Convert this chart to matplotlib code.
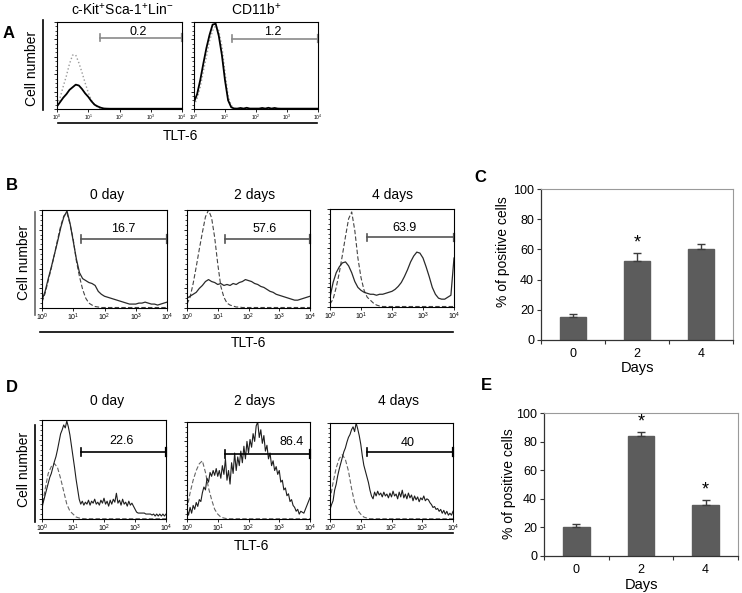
import numpy as np
import matplotlib
matplotlib.use('Agg')
import matplotlib.pyplot as plt
from matplotlib.lines import Line2D

plt.rcParams['font.family'] = ['Liberation Sans', 'DejaVu Sans']
plt.rcParams['mathtext.fontset'] = 'custom'
plt.rcParams['mathtext.rm'] = 'Liberation Sans'
plt.rcParams['mathtext.it'] = 'Liberation Sans:italic'
plt.rcParams['mathtext.bf'] = 'Liberation Sans:bold'

# ---------------- data ----------------
# histogram channels, log10 of TLT-6 fluorescence
LOG_COARSE = np.linspace(0, 4, 41)
LOG_FINE = np.linspace(0, 4, 81)

# A: c-Kit+Sca-1+Lin- and CD11b+ (solid = TLT-6, dotted = isotype)
A_KSL_STAIN = [0.03, 0.08, 0.13, 0.17, 0.22, 0.25, 0.28, 0.27, 0.23, 0.18,
               0.14, 0.09, 0.05, 0.03, 0.015, 0.006, 0.004, 0.003, 0.003, 0.003,
               0.003, 0.003, 0.003, 0.003, 0.003, 0.003, 0.003, 0.003, 0.003, 0.003,
               0.003, 0.003, 0.003, 0.003, 0.003, 0.003, 0.003, 0.003, 0.003, 0.003,
               0.003]
A_KSL_ISO = [0.05, 0.13, 0.26, 0.38, 0.52, 0.62, 0.62, 0.53, 0.42, 0.30,
             0.19, 0.10, 0.05, 0.02, 0.005, 0.0, 0.0, 0.0, 0.0, 0.0,
             0.0, 0.0, 0.0, 0.0, 0.0, 0.0, 0.0, 0.0, 0.0, 0.0,
             0.0, 0.0, 0.0, 0.0, 0.0, 0.0, 0.0, 0.0, 0.0, 0.0,
             0.0]
A_CD11B_STAIN = [0.08, 0.17, 0.33, 0.52, 0.70, 0.85, 0.97, 0.98, 0.84, 0.62,
                 0.33, 0.10, 0.02, 0.005, 0.005, 0.012, 0.005, 0.014, 0.005, 0.005,
                 0.005, 0.005, 0.012, 0.005, 0.014, 0.005, 0.012, 0.005, 0.004, 0.004,
                 0.004, 0.004, 0.004, 0.004, 0.004, 0.004, 0.004, 0.004, 0.004, 0.004,
                 0.004]
A_CD11B_ISO = [0.04, 0.12, 0.25, 0.43, 0.60, 0.78, 0.90, 0.96, 0.90, 0.72,
               0.42, 0.15, 0.04, 0.01, 0.0, 0.0, 0.0, 0.0, 0.0, 0.0,
               0.0, 0.0, 0.0, 0.0, 0.0, 0.0, 0.0, 0.0, 0.0, 0.0,
               0.0, 0.0, 0.0, 0.0, 0.0, 0.0, 0.0, 0.0, 0.0, 0.0,
               0.0]

# B: 0 / 2 / 4 days (solid = TLT-6, dashed = isotype)
B0_STAIN = [0.08, 0.17, 0.30, 0.42, 0.55, 0.68, 0.82, 0.93, 0.99, 0.86,
            0.68, 0.50, 0.36, 0.30, 0.28, 0.26, 0.25, 0.23, 0.17, 0.14,
            0.12, 0.11, 0.10, 0.09, 0.08, 0.07, 0.06, 0.05, 0.04, 0.04,
            0.04, 0.05, 0.05, 0.06, 0.05, 0.04, 0.04, 0.03, 0.04, 0.05,
            0.06]
B0_ISO = [0.06, 0.15, 0.28, 0.41, 0.55, 0.70, 0.84, 0.94, 0.97, 0.85,
          0.70, 0.48, 0.32, 0.19, 0.10, 0.05, 0.03, 0.015, 0.01, 0.005,
          0.005, 0.005, 0.005, 0.005, 0.005, 0.005, 0.005, 0.005, 0.005, 0.005,
          0.005, 0.005, 0.005, 0.005, 0.005, 0.005, 0.005, 0.005, 0.005, 0.005,
          0.005]
B2_STAIN = [0.10, 0.12, 0.14, 0.16, 0.20, 0.23, 0.27, 0.29, 0.27, 0.26,
            0.24, 0.25, 0.23, 0.24, 0.23, 0.25, 0.24, 0.26, 0.27, 0.29,
            0.28, 0.27, 0.25, 0.24, 0.22, 0.21, 0.19, 0.17, 0.16, 0.14,
            0.13, 0.12, 0.11, 0.10, 0.09, 0.08, 0.08, 0.09, 0.10, 0.11,
            0.12]
B2_ISO = [0.04, 0.11, 0.25, 0.42, 0.60, 0.77, 0.93, 1.00, 0.92, 0.72,
          0.45, 0.22, 0.11, 0.05, 0.03, 0.02, 0.01, 0.01, 0.005, 0.005,
          0.005, 0.005, 0.005, 0.005, 0.005, 0.005, 0.005, 0.005, 0.005, 0.005,
          0.005, 0.005, 0.005, 0.005, 0.005, 0.005, 0.005, 0.005, 0.005, 0.005,
          0.005]
B4_STAIN = [0.10, 0.25, 0.35, 0.41, 0.45, 0.46, 0.42, 0.35, 0.26, 0.20,
            0.17, 0.15, 0.14, 0.13, 0.13, 0.12, 0.13, 0.13, 0.14, 0.15,
            0.16, 0.18, 0.21, 0.25, 0.31, 0.38, 0.46, 0.52, 0.56, 0.55,
            0.50, 0.41, 0.31, 0.20, 0.13, 0.09, 0.08, 0.08, 0.10, 0.12,
            0.50]
B4_ISO = [0.03, 0.08, 0.20, 0.35, 0.53, 0.72, 0.90, 0.97, 0.78, 0.50,
          0.30, 0.17, 0.10, 0.07, 0.04, 0.02, 0.01, 0.005, 0.005, 0.005,
          0.005, 0.005, 0.005, 0.005, 0.005, 0.005, 0.005, 0.005, 0.005, 0.005,
          0.005, 0.005, 0.005, 0.005, 0.005, 0.005, 0.005, 0.005, 0.005, 0.005,
          0.005]

# D: 0 / 2 / 4 days (fine channels for the noisy stained curves)
D0_STAIN = [0.12, 0.18, 0.24, 0.30, 0.36, 0.42, 0.46, 0.52, 0.58, 0.63,
            0.70, 0.78, 0.86, 0.90, 0.95, 0.92, 0.99, 0.93, 0.85, 0.74,
            0.63, 0.52, 0.40, 0.30, 0.20, 0.15, 0.18, 0.14, 0.17, 0.15,
            0.19, 0.14, 0.18, 0.16, 0.20, 0.15, 0.17, 0.14, 0.19, 0.16,
            0.21, 0.15, 0.18, 0.13, 0.19, 0.15, 0.20, 0.17, 0.26, 0.16,
            0.19, 0.14, 0.20, 0.15, 0.17, 0.13, 0.18, 0.14, 0.16, 0.13,
            0.10, 0.07, 0.06, 0.06, 0.06, 0.06, 0.06, 0.05, 0.05, 0.05,
            0.05, 0.04, 0.05, 0.03, 0.05, 0.03, 0.05, 0.03, 0.05, 0.03,
            0.05]
D0_ISO = [0.10, 0.30, 0.46, 0.53, 0.56, 0.52, 0.41, 0.28, 0.15, 0.08,
          0.05, 0.02, 0.01, 0.005, 0.003, 0.003, 0.003, 0.003, 0.003, 0.003,
          0.003, 0.003, 0.003, 0.003, 0.003, 0.003, 0.003, 0.003, 0.003, 0.003,
          0.003, 0.003, 0.003, 0.003, 0.003, 0.003, 0.003, 0.003, 0.003, 0.003,
          0.003]
D2_STAIN = [0.10, 0.04, 0.12, 0.06, 0.14, 0.10, 0.17, 0.13, 0.20, 0.18,
            0.27, 0.33, 0.30, 0.42, 0.38, 0.48, 0.44, 0.50, 0.45, 0.52,
            0.44, 0.50, 0.42, 0.55, 0.46, 0.62, 0.40, 0.50, 0.36, 0.58,
            0.47, 0.68, 0.50, 0.64, 0.55, 0.70, 0.58, 0.75, 0.62, 0.80,
            0.68, 0.82, 0.74, 0.88, 0.80, 0.96, 1.00, 0.84, 0.92, 0.78,
            0.86, 0.70, 0.76, 0.62, 0.68, 0.55, 0.60, 0.50, 0.54, 0.46,
            0.50, 0.38, 0.40, 0.30, 0.32, 0.24, 0.26, 0.18, 0.20, 0.14,
            0.12, 0.08, 0.10, 0.05, 0.08, 0.07, 0.06, 0.10, 0.14, 0.18,
            0.22]
D2_ISO = [0.10, 0.27, 0.40, 0.50, 0.57, 0.60, 0.48, 0.32, 0.20, 0.10,
          0.05, 0.02, 0.01, 0.003, 0.003, 0.003, 0.003, 0.003, 0.003, 0.003,
          0.003, 0.003, 0.003, 0.003, 0.003, 0.003, 0.003, 0.003, 0.003, 0.003,
          0.003, 0.003, 0.003, 0.003, 0.003, 0.003, 0.003, 0.003, 0.003, 0.003,
          0.003]
D4_STAIN = [0.10, 0.15, 0.19, 0.30, 0.36, 0.45, 0.52, 0.58, 0.64, 0.70,
            0.74, 0.80, 0.85, 0.88, 0.93, 0.96, 0.91, 1.00, 0.94, 0.87,
            0.78, 0.66, 0.56, 0.50, 0.44, 0.38, 0.30, 0.24, 0.21, 0.28,
            0.24, 0.29, 0.25, 0.27, 0.23, 0.28, 0.24, 0.26, 0.22, 0.27,
            0.23, 0.29, 0.24, 0.26, 0.21, 0.28, 0.23, 0.30, 0.22, 0.26,
            0.21, 0.27, 0.22, 0.25, 0.19, 0.24, 0.20, 0.23, 0.18, 0.22,
            0.20, 0.24, 0.19, 0.21, 0.20, 0.17, 0.15, 0.12, 0.13, 0.10,
            0.11, 0.08, 0.10, 0.06, 0.09, 0.05, 0.08, 0.04, 0.06, 0.04,
            0.08]
D4_ISO = [0.20, 0.38, 0.53, 0.63, 0.67, 0.62, 0.50, 0.32, 0.17, 0.09,
          0.05, 0.02, 0.01, 0.003, 0.003, 0.003, 0.003, 0.003, 0.003, 0.003,
          0.003, 0.003, 0.003, 0.003, 0.003, 0.003, 0.003, 0.003, 0.003, 0.003,
          0.003, 0.003, 0.003, 0.003, 0.003, 0.003, 0.003, 0.003, 0.003, 0.003,
          0.003]

A_TITLES = ['c-Kit$^{+}$Sca-1$^{+}$Lin$^{-}$', 'CD11b$^{+}$']
TIME_TITLES = ['0 day', '2 days', '4 days']
A_GATE_PCT = ['0.2', '1.2']
B_GATE_PCT = ['16.7', '57.6', '63.9']
D_GATE_PCT = ['22.6', '86.4', '40']

# C / E: % positive cells
DAYS = ['0', '2', '4']
C_MEAN = [15.5, 52, 60.5]
C_ERR = [1.5, 5.5, 3.3]
C_SIG = [False, True, False]
E_MEAN = [20.5, 84, 36]
E_ERR = [2.0, 2.5, 3.5]
E_SIG = [False, True, True]

# ---------------- layout helpers ----------------
W, H = 742, 593
fig = plt.figure(figsize=(W / 100, H / 100), dpi=100)


def box(x0, y0, x1, y1):
    return fig.add_axes([x0 / W, 1 - y1 / H, (x1 - x0) / W, (y1 - y0) / H])


def ftext(x, y, s, **kw):
    fig.text(x / W, 1 - y / H, s, **kw)


def fline(x0, y0, x1, y1, color='k', lw=1.2):
    fig.add_artist(Line2D([x0 / W, x1 / W], [1 - y0 / H, 1 - y1 / H],
                          transform=fig.transFigure, color=color, lw=lw))


def flow_panel(rect, log_s, stain, log_i, iso, gate0, gate_y, pct, pct_x, pct_y,
               s_kw, i_kw, gate_color, tick_fs):
    ax = box(*rect)
    ax.plot(10 ** np.asarray(log_i), iso, **i_kw)
    ax.plot(10 ** np.asarray(log_s), stain, **s_kw)
    ax.set_xscale('log')
    ax.set_xlim(1, 1e4)
    ax.set_ylim(0, 1.0)
    ax.set_xticks([1, 10, 100, 1000, 10000])
    ax.set_xticklabels([r'$10^{%d}$' % k for k in range(5)], fontsize=tick_fs)
    ax.set_yticks(np.arange(0, 1.01, 0.2))
    ax.set_yticks(np.arange(0, 1.01, 0.05), minor=True)
    ax.set_yticklabels([])
    ax.tick_params(which='major', length=2, width=0.6, pad=1)
    ax.tick_params(which='minor', length=1.2, width=0.5)
    for sp in ax.spines.values():
        sp.set_linewidth(0.8)
    g0 = 10 ** gate0
    ax.plot([g0, 1e4], [gate_y, gate_y], color=gate_color, lw=1.2, clip_on=False)
    ax.plot([g0, g0], [gate_y - 0.04, gate_y + 0.04], color=gate_color, lw=1.2)
    ax.plot([1e4, 1e4], [gate_y - 0.04, gate_y + 0.04], color=gate_color, lw=1.6,
            clip_on=False)
    ax.text(10 ** pct_x, pct_y, pct, ha='center', va='center', fontsize=9)
    return ax


def bar_panel(rect, mean, err, sig):
    ax = box(*rect)
    pos = np.arange(len(DAYS))
    ax.bar(pos, mean, width=0.41, color='#5c5c5c', edgecolor='#5c5c5c', zorder=2)
    ax.errorbar(pos, mean, yerr=[[0] * len(err), err], fmt='none', ecolor='#3c3c3c',
                elinewidth=1, capsize=3, capthick=1, zorder=3)
    for p, m, e, s in zip(pos, mean, err, sig):
        if s:
            ax.text(p, m + e + 7, '*', ha='center', va='center', fontsize=13)
    ax.set_xlim(-0.5, 2.5)
    ax.set_ylim(0, 100)
    ax.set_yticks(range(0, 101, 20))
    ax.set_xticks(pos)
    ax.set_xticklabels(DAYS, fontsize=9)
    ax.set_xticks([-0.5, 0.5, 1.5, 2.5], minor=True)
    ax.tick_params(axis='x', which='major', length=0, pad=6)
    ax.tick_params(axis='x', which='minor', length=3, width=0.8, color='#333')
    ax.tick_params(axis='y', labelsize=9, length=3, width=0.8, color='#333', pad=2)
    for side in ['left', 'bottom']:
        ax.spines[side].set_color('#333')
        ax.spines[side].set_linewidth(0.9)
    for side in ['top', 'right']:
        ax.spines[side].set_color('#9a9a9a')
        ax.spines[side].set_linewidth(0.8)
    return ax


# ---------------- panel A ----------------
a_rects = [(57, 22, 182, 109), (194, 22, 318, 109)]
a_data = [(A_KSL_STAIN, A_KSL_ISO), (A_CD11B_STAIN, A_CD11B_ISO)]
a_gate0 = [1.39, 1.23]
a_gate_y = [0.82, 0.81]
a_pct_x = [2.6, 2.55]
for rect, (st, iso), g0, gy, pct, px in zip(a_rects, a_data, a_gate0, a_gate_y,
                                            A_GATE_PCT, a_pct_x):
    flow_panel(rect, LOG_COARSE, st, LOG_COARSE, iso, g0, gy, pct, px, 0.89,
               dict(color='k', lw=1.3), dict(color='#9a9a9a', lw=1.0, ls=':'),
               '#8a8a8a', 3.5)
ftext(122, 10, A_TITLES[0], ha='center', va='center', fontsize=10)
ftext(256, 10, A_TITLES[1], ha='center', va='center', fontsize=10)
ftext(9, 33, 'A', ha='center', va='center', fontsize=12, fontweight='bold')
fline(43, 20, 43, 110)
fline(58, 123, 317, 123)
ftext(32, 68, 'Cell number', rotation=90, ha='center', va='center', fontsize=10)
ftext(180, 136, 'TLT-6', ha='center', va='center', fontsize=10)

# ---------------- panel B ----------------
b_rects = [(42, 210, 167, 308), (187, 210, 310, 308), (330, 209, 454, 307)]
b_data = [(B0_STAIN, B0_ISO), (B2_STAIN, B2_ISO), (B4_STAIN, B4_ISO)]
b_gate0 = [1.26, 1.22, 1.19]
b_gate_y = [0.70, 0.70, 0.71]
b_pct_x = [2.61, 2.54, 2.4]
b_title_x = [107, 255, 393]
for rect, (st, iso), g0, gy, pct, px, tx, title in zip(
        b_rects, b_data, b_gate0, b_gate_y, B_GATE_PCT, b_pct_x, b_title_x, TIME_TITLES):
    flow_panel(rect, LOG_COARSE, st, LOG_COARSE, iso, g0, gy, pct, px, 0.81,
               dict(color='#2a2a2a', lw=0.9), dict(color='#444', lw=0.8, ls=(0, (4, 2))),
               '#555', 5)
    ftext(tx, 195, title, ha='center', va='center', fontsize=10)
ftext(12, 185, 'B', ha='center', va='center', fontsize=12, fontweight='bold')
fline(35, 212, 35, 315, color='#666')
fline(40, 332, 453, 332)
ftext(24, 262, 'Cell number', rotation=90, ha='center', va='center', fontsize=10)
ftext(248, 343, 'TLT-6', ha='center', va='center', fontsize=10)

# ---------------- panel D ----------------
d_rects = [(42, 420, 166, 519), (187, 422, 310, 519), (330, 423, 453, 519)]
d_data = [(D0_STAIN, D0_ISO), (D2_STAIN, D2_ISO), (D4_STAIN, D4_ISO)]
d_gate0 = [1.27, 1.22, 1.19]
d_gate_y = [0.68, 0.67, 0.70]
d_pct_x = [2.58, 3.4, 2.54]
d_title_x = [107, 255, 398]
for rect, (st, iso), g0, gy, pct, px, tx, title in zip(
        d_rects, d_data, d_gate0, d_gate_y, D_GATE_PCT, d_pct_x, d_title_x, TIME_TITLES):
    flow_panel(rect, LOG_FINE, st, LOG_COARSE, iso, g0, gy, pct, px, 0.79,
               dict(color='#1e1e1e', lw=0.8), dict(color='#666', lw=0.8, ls=(0, (4, 2))),
               'k', 5)
    ftext(tx, 401, title, ha='center', va='center', fontsize=10)
ftext(12, 387, 'D', ha='center', va='center', fontsize=12, fontweight='bold')
fline(35, 425, 35, 522)
fline(40, 533, 453, 533)
ftext(24, 469, 'Cell number', rotation=90, ha='center', va='center', fontsize=10)
ftext(251, 546, 'TLT-6', ha='center', va='center', fontsize=10)

# ---------------- panels C and E ----------------
bar_panel((541, 189, 733, 340), C_MEAN, C_ERR, C_SIG)
ftext(480, 177, 'C', ha='center', va='center', fontsize=12, fontweight='bold')
ftext(503, 252, '% of positive cells', rotation=90, ha='center', va='center', fontsize=10)
ftext(638, 368, 'Days', ha='center', va='center', fontsize=10.5)

bar_panel((544, 413, 738, 556), E_MEAN, E_ERR, E_SIG)
ftext(486, 386, 'E', ha='center', va='center', fontsize=12, fontweight='bold')
ftext(509, 484, '% of positive cells', rotation=90, ha='center', va='center', fontsize=10)
ftext(641, 585, 'Days', ha='center', va='center', fontsize=10.5)

fig.savefig('out.png', dpi=100)
